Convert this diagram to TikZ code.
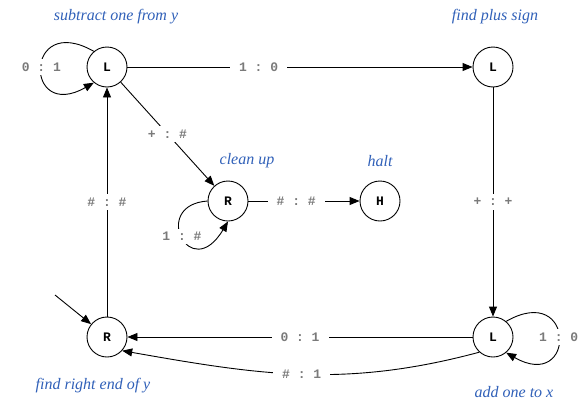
\documentclass[tikz,border=0pt]{standalone}
\usepackage{fontspec}
\setmainfont{Liberation Serif}
\setmonofont{Liberation Mono}
\usetikzlibrary{arrows.meta}
\definecolor{notecol}{RGB}{48,96,184}
\definecolor{symcol}{RGB}{122,122,122}
\begin{document}
\begin{tikzpicture}[x=1pt,y=1pt,
  state/.style={circle, draw, line width=0.9pt, minimum size=40pt, inner sep=0pt,
    font=\ttfamily\bfseries\fontsize{13}{13}\selectfont},
  arr/.style={line width=0.9pt, -{Triangle[length=10pt,width=8pt]}},
  sym/.style={fill=white, text=symcol, inner xsep=9pt, inner ysep=4pt,
    font=\ttfamily\bfseries\fontsize{13}{13}\selectfont},
  note/.style={text=notecol, font=\itshape\fontsize{16}{16}\selectfont}]
\useasboundingbox (0,0) rectangle (583,-402);

% states
\node[state] (sub)   at (107,-67)  {L};
\node[state] (plus)  at (493,-67)  {L};
\node[state] (clean) at (228,-201) {R};
\node[state] (halt)  at (380,-201) {H};
\node[state] (right) at (107,-337) {R};
\node[state] (add)   at (493,-337) {L};
\coordinate (init) at (55,-295);

% state descriptions
\node[note] (nsub)   at (116,-17)  {subtract one from y};
\node[note] (nplus)  at (495,-17)  {find plus sign};
\node[note] (nclean) at (247,-161) {clean up};
\node[note] (nhalt)  at (380,-161) {halt};
\node[note] (nright) at (93,-386)  {find right end of y};
\node[note] (nadd)   at (514,-392) {add one to x};

% transitions
\draw[arr] (init) -- (right);
\draw[arr] (sub.130) .. controls +(-70,40) and +(-70,-40) .. node[sym, pos=0.5] {0 : 1} (sub.230);
\draw[arr] (sub) -- node[sym, pos=0.38] {1 : 0} (plus);
\draw[arr] (sub) -- node[sym] {+ : \#} (clean);
\draw[arr] (clean.180) .. controls (150,-205) and (190,-285) .. node[sym, pos=0.5, inner ysep=3pt, inner xsep=6pt] {1 : \#} (clean.270);
\draw[arr] (clean) -- node[sym, pos=0.43] {\# : \#} (halt);
\draw[arr] (plus) -- node[sym] {+ : +} (add);
\draw[arr] (add.50) .. controls +(70,40) and +(70,-40) .. node[sym, pos=0.5] {1 : 0} (add.-50);
\draw[arr] (add) -- node[sym] {0 : 1} (right);
\draw[arr] (add.-132) to[out=195, in=-10] node[sym, pos=0.5] {\# : 1} (right.-42);
\draw[arr] (right) -- node[sym] {\# : \#} (sub);
\end{tikzpicture}
\end{document}
